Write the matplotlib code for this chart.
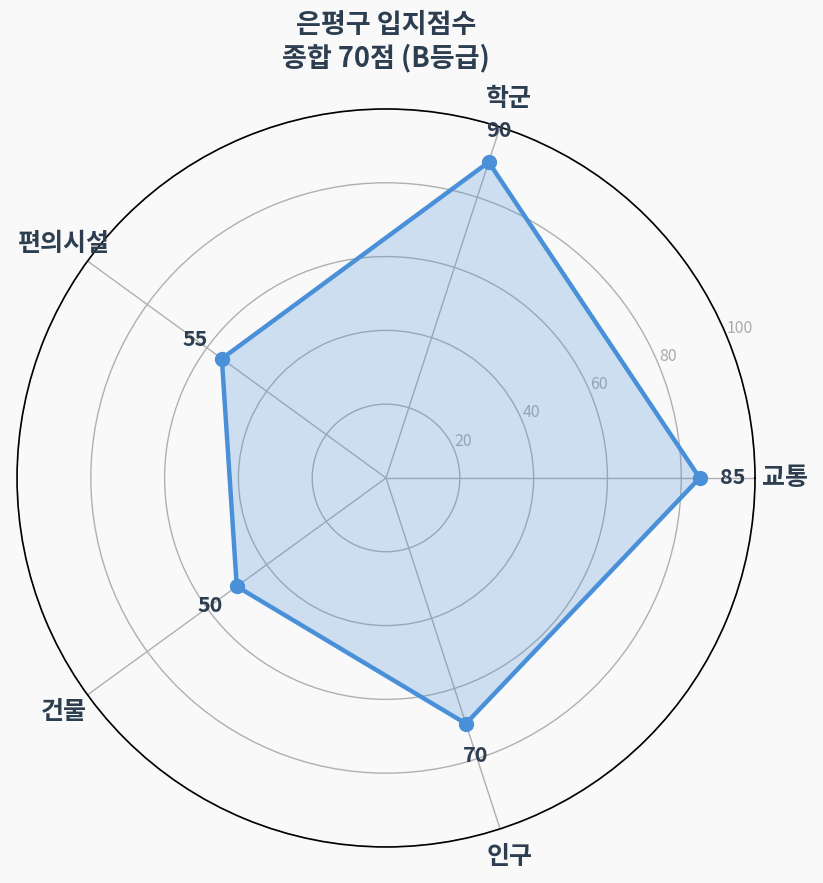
import numpy as np
import matplotlib.pyplot as plt

plt.rcParams['font.family'] = ['Noto Sans CJK KR', 'DejaVu Sans']

categories = ['교통', '학군', '편의시설', '건물', '인구']
scores = [85, 90, 55, 50, 70]
rticks = [20, 40, 60, 80, 100]
title = '은평구 입지점수\n종합 70점 (B등급)'

main = '#4a90d9'
dark = '#2c3e50'
bg = '#f9f9f9'

angles = np.linspace(0, 2 * np.pi, len(categories), endpoint=False)
ang_c = np.append(angles, angles[0])
val_c = np.append(scores, scores[0])

fig = plt.figure(figsize=(8.23, 8.83), dpi=100, facecolor=bg)
ax = fig.add_axes([0.0207, 0.0408, 0.8967, 0.8358], projection='polar')
ax.set_facecolor(bg)

ax.fill(ang_c, val_c, color=main, alpha=0.25, zorder=2)
ax.plot(ang_c, val_c, color=main, linewidth=3.2, zorder=3)
ax.plot(angles, scores, 'o', color=main, markersize=10, zorder=4)

ax.set_ylim(0, 100)
ax.set_yticks(rticks)
ax.set_yticklabels([str(t) for t in rticks], color='#aaaaaa', fontsize=11.5)
ax.set_rlabel_position(22.5)
ax.set_xticks(angles)
ax.set_xticklabels([])
ax.grid(color='#b0b0b0', linewidth=1)
ax.spines['polar'].set_color('black')
ax.spines['polar'].set_linewidth(1.2)

for a, v in zip(angles, scores):
    ax.text(a, v + 9, str(v), ha='center', va='center', fontsize=15.5,
            fontweight='bold', color=dark)
for a, c in zip(angles, categories):
    ax.text(a, 108, c, ha='center', va='center', fontsize=18,
            fontweight='bold', color=dark)

fig.text(386 / 823, 1 - 42 / 883, title, ha='center', va='center',
         fontsize=19.5, fontweight='bold', color=dark, linespacing=1.2)

fig.savefig('out.png', dpi=100, facecolor=bg)
